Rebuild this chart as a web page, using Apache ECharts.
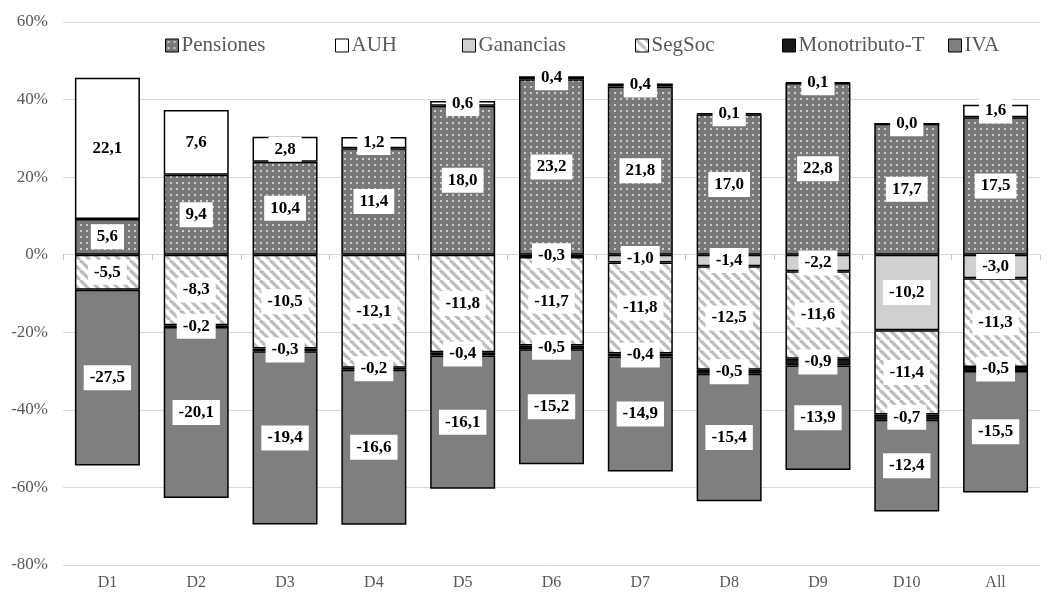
<!DOCTYPE html>
<html>
<head>
<meta charset="utf-8">
<title>Incidencia por decil</title>
<script src="https://cdn.jsdelivr.net/npm/echarts@6/dist/echarts.min.js"></script>
<style>
  html, body { margin: 0; padding: 0; background: #fff; }
  #chart { width: 1051px; height: 594px; }
</style>
</head>
<body>
<div id="chart"></div>
<script>
// Deciles and components (percentage points)
const categories = ['D1', 'D2', 'D3', 'D4', 'D5', 'D6', 'D7', 'D8', 'D9', 'D10', 'All'];
const pensiones   = [5.6, 9.4, 10.4, 11.4, 18.0, 23.2, 21.8, 17.0, 22.8, 17.7, 17.5];
const auh         = [22.1, 7.6, 2.8, 1.2, 0.6, 0.4, 0.4, 0.1, 0.1, 0.0, 1.6];
const ganancias   = [null, null, null, null, null, -0.3, -1.0, -1.4, -2.2, -10.2, -3.0];
const segSoc      = [-5.5, -8.3, -10.5, -12.1, -11.8, -11.7, -11.8, -12.5, -11.6, -11.4, -11.3];
const monotributo = [null, -0.2, -0.3, -0.2, -0.4, -0.5, -0.4, -0.5, -0.9, -0.7, -0.5];
const iva         = [-27.5, -20.1, -19.4, -16.6, -16.1, -15.2, -14.9, -15.4, -13.9, -12.4, -15.5];
const yTicks = { min: -80, max: 60, interval: 20 };

const FONT = 'Liberation Serif, Times New Roman, serif';
const AXIS_GRAY = '#bfbfbf';

// Fill patterns
function dotPattern() {
  const c = document.createElement('canvas');
  c.width = 6; c.height = 6;
  const g = c.getContext('2d');
  g.fillStyle = '#787878';
  g.fillRect(0, 0, 6, 6);
  g.fillStyle = '#cccccc';
  g.fillRect(2, 2, 2, 2);
  return c;
}
function hatchPattern() {
  const s = 10;
  const c = document.createElement('canvas');
  c.width = s; c.height = s;
  const g = c.getContext('2d');
  g.fillStyle = '#ffffff';
  g.fillRect(0, 0, s, s);
  g.strokeStyle = '#bdbdbd';
  g.lineWidth = 3.2;
  for (const off of [-s, 0, s]) {
    g.beginPath();
    g.moveTo(off, 0);
    g.lineTo(off + s, s);
    g.stroke();
  }
  return c;
}

// Each bar spans 100% of the sum of absolute components; labels keep the raw value
const columns = [pensiones, auh, ganancias, segSoc, monotributo, iva];
const totals = categories.map((_, i) =>
  columns.reduce((acc, col) => acc + (col[i] == null ? 0 : Math.abs(col[i])), 0));

function toShares(arr) {
  return arr.map((v, i) => v == null ? null : { value: v / totals[i] * 100, raw: v });
}
function fmt(p) {
  if (!p.data || p.data.raw == null) return '';
  return p.data.raw.toFixed(1).replace('.', ',');
}

const labelStyle = {
  show: true,
  position: 'inside',
  formatter: fmt,
  backgroundColor: '#ffffff',
  padding: [4, 6],
  color: '#000',
  fontFamily: FONT,
  fontWeight: 'bold',
  fontSize: 17
};

function makeSeries(name, arr, fill, stack) {
  const s = {
    name: name,
    type: 'bar',
    stack: stack,
    barWidth: 65,
    barGap: '-100%',
    data: toShares(arr),
    itemStyle: { color: fill, borderColor: '#000', borderWidth: 1.5 },
    label: labelStyle,
    emphasis: { disabled: true }
  };
  // positive stack also carries zero-valued segments on top of the column
  if (stack === 'pos') s.stackStrategy = 'all';
  return s;
}

const series = [
  makeSeries('Pensiones', pensiones, { image: dotPattern(), repeat: 'repeat' }, 'pos'),
  makeSeries('AUH', auh, '#ffffff', 'pos'),
  makeSeries('Ganancias', ganancias, '#d0d0d0', 'neg'),
  makeSeries('SegSoc', segSoc, { image: hatchPattern(), repeat: 'repeat' }, 'neg'),
  makeSeries('Monotributo-T', monotributo, '#1a1a1a', 'neg'),
  makeSeries('IVA', iva, '#7f7f7f', 'neg')
];

// Short separators hanging below the 0% line between categories
series.push({
  name: 'zeroTicks',
  type: 'custom',
  silent: true,
  z: 1,
  data: categories.map((_, i) => [i, 0]),
  renderItem: function (params, api) {
    const p = api.coord([api.value(0), 0]);
    const half = api.size([1, 0])[0] / 2;
    const xs = [p[0] - half];
    if (params.dataIndex === categories.length - 1) xs.push(p[0] + half);
    return {
      type: 'group',
      children: xs.map(function (x) {
        return {
          type: 'line',
          shape: { x1: Math.round(x) + 0.5, y1: p[1], x2: Math.round(x) + 0.5, y2: p[1] + 5 },
          style: { stroke: AXIS_GRAY, lineWidth: 1 }
        };
      })
    };
  }
});

const legendLeft = [160, 330, 457, 630, 777, 943];
const legend = series.slice(0, 6).map((s, i) => ({
  data: [s.name],
  left: legendLeft[i],
  top: 30,
  itemWidth: 13,
  itemHeight: 13,
  itemGap: 0,
  icon: 'rect',
  itemStyle: { borderColor: '#000', borderWidth: 1 },
  textStyle: { fontFamily: FONT, fontSize: 21, color: '#595959', padding: [0, 0, 0, -2] },
  selectedMode: false
}));

const chart = echarts.init(document.getElementById('chart'), null, { renderer: 'canvas' });
chart.setOption({
  animation: false,
  legend: legend,
  grid: { left: 63, right: 11, top: 22, bottom: 29, containLabel: false, outerBoundsMode: 'none' },
  xAxis: {
    type: 'category',
    data: categories,
    axisLine: { show: false, onZero: false },
    axisTick: { show: false, length: 0 },
    splitLine: { show: false },
    minorTick: { show: false },
    axisLabel: { fontFamily: FONT, fontSize: 16, color: '#595959', margin: 10 }
  },
  yAxis: {
    type: 'value',
    min: yTicks.min,
    max: yTicks.max,
    interval: yTicks.interval,
    axisLine: { show: false },
    axisTick: { show: false },
    splitLine: { lineStyle: { color: '#d9d9d9', width: 1 } },
    axisLabel: { formatter: '{value}%', fontFamily: FONT, fontSize: 17, color: '#595959', margin: 15 }
  },
  series: series
});
</script>
</body>
</html>
